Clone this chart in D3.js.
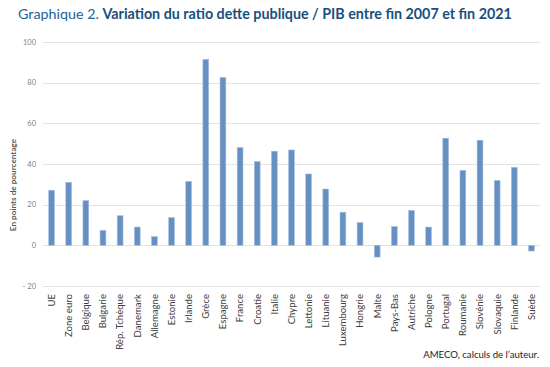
<!DOCTYPE html>
<html>
<head>
<meta charset="utf-8">
<script src="https://cdn.jsdelivr.net/npm/d3@7"></script>
<style>
  body { margin: 0; background: #fff; }
  svg { font-family: Lato, 'Open Sans', sans-serif; }
</style>
</head>
<body>
<div class="chart"></div>
<script>
const countries = ['UE', 'Zone euro', 'Belgique', 'Bulgarie', 'Rép. Tchèque', 'Danemark', 'Allemagne',
  'Estonie', 'Irlande', 'Grèce', 'Espagne', 'France', 'Croatie', 'Italie', 'Chypre', 'Lettonie',
  'Lituanie', 'Luxembourg', 'Hongrie', 'Malte', 'Pays-Bas', 'Autriche', 'Pologne', 'Portugal',
  'Roumanie', 'Slovénie', 'Slovaquie', 'Finlande', 'Suède']
const values = [27.1, 31, 22, 7.4, 14.6, 9, 4.3, 13.6, 31.5, 91.5, 82.6, 48.1, 41.2, 46.3, 46.9, 35.1,
  27.7, 16.3, 11.2, -5.8, 9.2, 17.2, 9, 52.7, 36.9, 51.7, 31.9, 38.4, -2.8]
const yTicks = [-20, 0, 20, 40, 60, 80, 100]

const width = 550
const height = 367
const margin = {top: 42, right: 10, bottom: 81, left: 43}

const svg = d3.select('.chart')
  .append('svg')
  .attr('width', width)
  .attr('height', height)

// title
const title = svg.append('text')
  .attr('x', 18)
  .attr('y', 19)
  .style('font-size', '14.3px')
  .style('fill', '#1a6496')
title.append('tspan').text('Graphique 2. ')
title.append('tspan')
  .style('font-weight', 'bold')
  .style('fill', '#17507e')
  .text('Variation du ratio dette publique / PIB entre fin 2007 et fin 2021')

const x = d3.scaleBand()
  .domain(countries)
  .range([margin.left, width - margin.right])
  .paddingInner(0.66)
  .paddingOuter(0.33)

const y = d3.scaleLinear()
  .domain([-20, 100])
  .range([height - margin.bottom, margin.top])

// gridlines
svg.append('g')
  .selectAll('line')
  .data(yTicks)
  .join('line')
  .attr('x1', margin.left)
  .attr('x2', width - margin.right)
  .attr('y1', d => Math.round(y(d)) + 0.5)
  .attr('y2', d => Math.round(y(d)) + 0.5)
  .style('stroke', '#e3e3e3')
  .style('stroke-width', 1)

// y tick labels
svg.append('g')
  .selectAll('text')
  .data(yTicks)
  .join('text')
  .attr('x', 36)
  .attr('y', d => y(d))
  .attr('dy', '0.35em')
  .style('text-anchor', 'end')
  .style('font-size', '7.5px')
  .style('fill', '#7f7f7f')
  .text(d => d < 0 ? '- ' + Math.abs(d) : d)

// y axis title
svg.append('text')
  .attr('transform', 'translate(13,185) rotate(-90)')
  .attr('dy', '0.35em')
  .style('text-anchor', 'middle')
  .style('font-size', '8.2px')
  .style('font-weight', 'bold')
  .style('fill', '#595959')
  .text('En points de pourcentage')

// bars
svg.append('g')
  .selectAll('rect')
  .data(values)
  .join('rect')
  .attr('x', (d, i) => x(countries[i]))
  .attr('width', x.bandwidth())
  .attr('y', d => y(Math.max(0, d)))
  .attr('height', d => Math.abs(y(d) - y(0)))
  .style('fill', '#6690c2')
  .style('stroke', '#a9c1df')
  .style('stroke-width', 0.6)

// x labels
svg.append('g')
  .selectAll('text')
  .data(countries)
  .join('text')
  .attr('transform', d => 'translate(' + (x(d) + x.bandwidth() / 2) + ',' + (y(-20) + 8) + ') rotate(-90)')
  .attr('dy', '0.35em')
  .style('text-anchor', 'end')
  .style('font-size', '9.6px')
  .style('fill', '#404040')
  .text(d => d)

// source
svg.append('text')
  .attr('x', 539)
  .attr('y', 358)
  .style('text-anchor', 'end')
  .style('font-size', '9.6px')
  .style('fill', '#222')
  .text('AMECO, calculs de l’auteur.')
</script>
</body>
</html>
